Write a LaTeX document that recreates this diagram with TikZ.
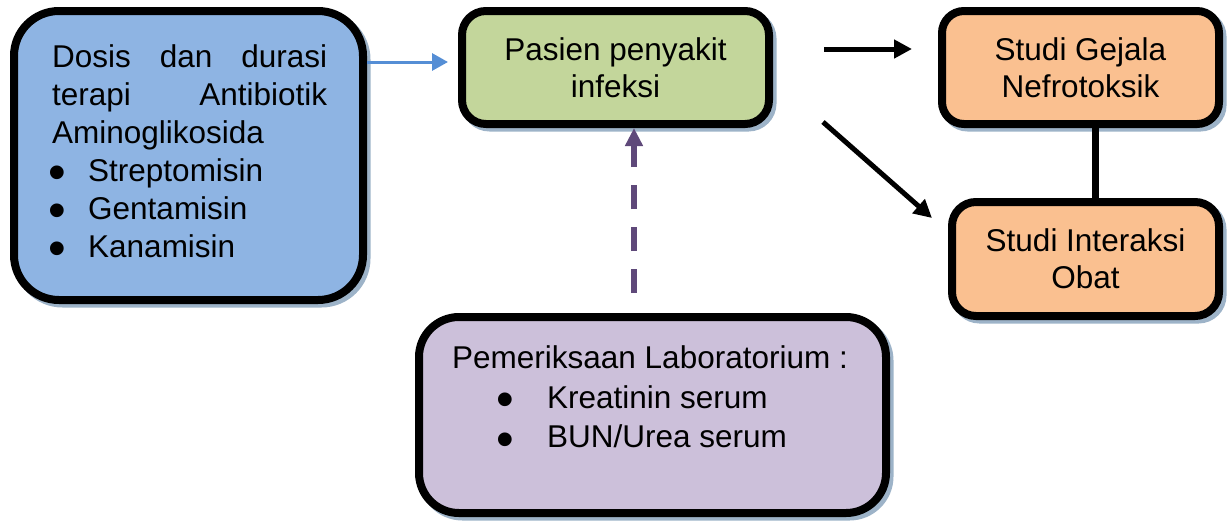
\documentclass[tikz,border=0pt]{standalone}
\usepackage{fontspec}
\setmainfont{Liberation Sans}
\usetikzlibrary{arrows.meta,shadows}
\definecolor{boxblue}{HTML}{8EB4E3}
\definecolor{boxgreen}{HTML}{C3D69B}
\definecolor{boxorange}{HTML}{FAC090}
\definecolor{boxpurple}{HTML}{CCC0DA}
\definecolor{shadowc}{HTML}{9DB3C8}
\definecolor{arrowblue}{HTML}{558ED5}
\definecolor{arrowpurple}{HTML}{5F497A}
\newcommand{\bul}[2]{\makebox[#1][l]{\hspace*{#2}\raisebox{-8.5pt}{\scalebox{1.6}{\textbullet}}}}
\begin{document}
\begin{tikzpicture}[x=1pt,y=-1pt,
  box/.style={draw=black, line width=8pt, rounded corners=#1,
    drop shadow={shadow xshift=3.5pt, shadow yshift=-3.5pt, draw=shadowc, fill=shadowc, line width=8pt, opacity=1},
    inner sep=0pt, font=\fontsize{31.5}{37}\selectfont, align=center},
  txt/.style={inner sep=0pt, align=left},
  bluearrow/.style={draw=arrowblue, line width=3pt, -{Triangle[length=16pt,width=17pt]}},
  blackarrow/.style={draw=black, line width=5pt, -{Triangle[length=18pt,width=18pt]}},
  dasharrow/.style={draw=arrowpurple, line width=6pt, dash pattern=on 24pt off 18pt, -{Triangle[length=18pt,width=17pt]}},
  conn/.style={draw=black, line width=7pt}]
\useasboundingbox (0,0) rectangle (1232,520);

\node[box=45pt, fill=boxblue, minimum width=349pt, minimum height=289pt] (blue) at (188.5,155.5) {};
\node[box=24pt, fill=boxgreen, minimum width=307pt, minimum height=113pt] (green) at (615.5,67.5) {Pasien penyakit\\infeksi};
\node[box=22pt, fill=boxorange, minimum width=277pt, minimum height=113pt] (gejala) at (1080.5,67.5) {Studi Gejala\\Nefrotoksik};
\node[box=24pt, fill=boxorange, minimum width=267pt, minimum height=114pt] (interaksi) at (1085.5,259) {Studi Interaksi\\Obat};
\node[box=40pt, fill=boxpurple, minimum width=467pt, minimum height=196pt] (lab) at (652.5,415) {};

\node[txt, anchor=north west, font=\fontsize{31.5}{38}\selectfont] (bluetext) at (52,44)
  {\hbox to 275pt{Dosis\hfill dan\hfill durasi}\\
   \hbox to 275pt{terapi\hfill Antibiotik}\\
   Aminoglikosida\\
   \bul{36pt}{-3.5pt}Streptomisin\\
   \bul{36pt}{-3.5pt}Gentamisin\\
   \bul{36pt}{-3.5pt}Kanamisin};

\node[txt, anchor=north west, font=\fontsize{31.5}{39.5}\selectfont] (labtext) at (452,345.5)
  {Pemeriksaan Laboratorium :\\
   \hspace*{46pt}\bul{49pt}{-2pt}Kreatinin serum\\
   \hspace*{46pt}\bul{49pt}{-2pt}BUN/Urea serum};

\coordinate (bs) at (367,62);
\draw[bluearrow, shorten >=10pt] (bs) -- (green.west |- bs);

\coordinate (k1s) at (824,49);
\draw[blackarrow, shorten >=26pt] (k1s) -- (gejala.west |- k1s);

\coordinate (k2s) at (823,122);
\coordinate (k2e) at (932,218);
\draw[blackarrow] (k2s) -- (k2e);

\coordinate (ps) at (634,293);
\draw[dasharrow] (ps) -- (ps |- green.south);

\draw[conn] ([xshift=14.5pt]gejala.south) -- ([xshift=9.5pt]interaksi.north);
\end{tikzpicture}
\end{document}
